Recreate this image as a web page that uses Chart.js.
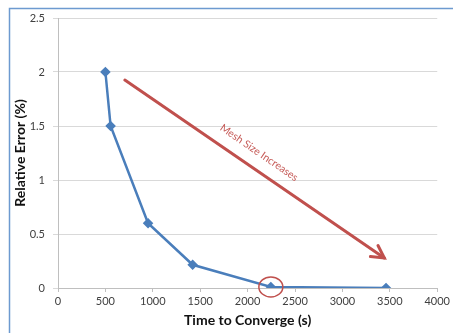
<!DOCTYPE html>
<html>
<head>
<meta charset="utf-8">
<script src="https://cdn.jsdelivr.net/npm/chart.js@4.4.1/dist/chart.umd.min.js"></script>
<style>
  html, body { margin: 0; padding: 0; background: #fff; }
  #wrap { position: relative; width: 453px; height: 333px; }
</style>
</head>
<body>
<div id="wrap"><canvas id="chart" width="453" height="333"></canvas></div>
<script>
// convergence data: solve time vs. relative error
var timeSec = [500, 555, 950, 1420, 2245, 3460];
var relError = [2.0, 1.5, 0.6, 0.215, 0.01, 0.0];
var xTicks = [0, 500, 1000, 1500, 2000, 2500, 3000, 3500, 4000];
var yTicks = [0, 0.5, 1, 1.5, 2, 2.5];

// annotation: trend arrow and highlighted point (data units)
var arrowFrom = [705, 1.925];
var arrowTo = [3442, 0.278];
var arrowLabel = 'Mesh Size Increases';
var circledPoint = [2245, 0.01];

var points = [];
for (var i = 0; i < timeSec.length; i++) {
    points.push({ x: timeSec[i], y: relError[i] });
}

var font = 'Lato, "Noto Sans", sans-serif';

function plain(v) { return String(v); }

var frame = {
    id: 'frame',
    beforeDraw: function (chart) {
        var ctx = chart.ctx;
        ctx.save();
        ctx.strokeStyle = '#6d9ad0';
        ctx.lineWidth = 1.5;
        ctx.strokeRect(9.5, 8.5, 470, 350);
        ctx.restore();
    }
};

var annotate = {
    id: 'annotate',
    afterDatasetsDraw: function (chart) {
        var ctx = chart.ctx;
        var xs = chart.scales.x, ys = chart.scales.y;
        var x1 = xs.getPixelForValue(arrowFrom[0]), y1 = ys.getPixelForValue(arrowFrom[1]);
        var x2 = xs.getPixelForValue(arrowTo[0]), y2 = ys.getPixelForValue(arrowTo[1]);
        var ang = Math.atan2(y2 - y1, x2 - x1);

        ctx.save();
        ctx.strokeStyle = '#c0504d';
        ctx.lineWidth = 3;
        ctx.lineCap = 'round';
        ctx.beginPath();
        ctx.moveTo(x1, y1);
        ctx.lineTo(x2, y2);
        ctx.stroke();
        // arrow head
        var hl = 14, spread = 0.5;
        ctx.beginPath();
        ctx.moveTo(x2 - hl * Math.cos(ang - spread), y2 - hl * Math.sin(ang - spread));
        ctx.lineTo(x2, y2);
        ctx.lineTo(x2 - hl * Math.cos(ang + spread), y2 - hl * Math.sin(ang + spread));
        ctx.stroke();

        // label along the arrow
        var mx = (x1 + x2) / 2 - 4, my = (y1 + y2) / 2 - 4;
        ctx.translate(mx + 15 * Math.sin(ang), my - 15 * Math.cos(ang));
        ctx.rotate(ang);
        ctx.fillStyle = '#c65b58';
        ctx.font = '10.5px ' + font;
        ctx.textAlign = 'center';
        ctx.textBaseline = 'middle';
        ctx.fillText(arrowLabel, 0, 0);
        ctx.restore();

        // ring around the chosen mesh point
        var cx = xs.getPixelForValue(circledPoint[0]), cy = ys.getPixelForValue(circledPoint[1]);
        ctx.save();
        ctx.strokeStyle = '#c0504d';
        ctx.lineWidth = 1.5;
        ctx.beginPath();
        ctx.ellipse(cx, cy, 12, 10, 0, 0, Math.PI * 2);
        ctx.stroke();
        ctx.restore();
    }
};

new Chart(document.getElementById('chart'), {
    type: 'scatter',
    data: {
        datasets: [{
            data: points,
            showLine: true,
            borderColor: '#4a7ebb',
            backgroundColor: '#4a7ebb',
            borderWidth: 2.5,
            pointStyle: 'rectRot',
            pointRadius: 3.5,
            pointHoverRadius: 3.5,
            tension: 0
        }]
    },
    options: {
        responsive: false,
        animation: false,
        layout: { padding: { top: 18, right: 15, left: 0, bottom: 0 } },
        plugins: { legend: { display: false }, tooltip: { enabled: false } },
        scales: {
            x: {
                type: 'linear',
                min: 0, max: 4000,
                afterBuildTicks: function (s) { s.ticks = xTicks.map(function (v) { return { value: v }; }); },
                afterFit: function (s) { s.height = 45; },
                grid: { drawOnChartArea: false, drawTicks: true, tickLength: 4, color: '#bfbfbf' },
                border: { color: '#bfbfbf' },
                ticks: { color: '#404040', font: { family: font, size: 11 }, padding: 3, maxRotation: 0, callback: plain },
                title: { display: true, text: 'Time to Converge (s)', color: '#111', font: { family: font, size: 14, weight: 'bold' }, padding: { top: 1 } }
            },
            y: {
                min: 0, max: 2.5,
                afterBuildTicks: function (s) { s.ticks = yTicks.map(function (v) { return { value: v }; }); },
                afterFit: function (s) { s.width = 58; },
                grid: { color: '#d9d9d9', tickLength: 5 },
                border: { color: '#bfbfbf' },
                ticks: { color: '#404040', font: { family: font, size: 11 }, padding: 8, callback: plain },
                title: { display: true, text: 'Relative Error (%)', color: '#111', font: { family: font, size: 14, weight: 'bold' }, padding: { top: 12, bottom: 0 } }
            }
        }
    },
    plugins: [frame, annotate]
});
</script>
</body>
</html>
